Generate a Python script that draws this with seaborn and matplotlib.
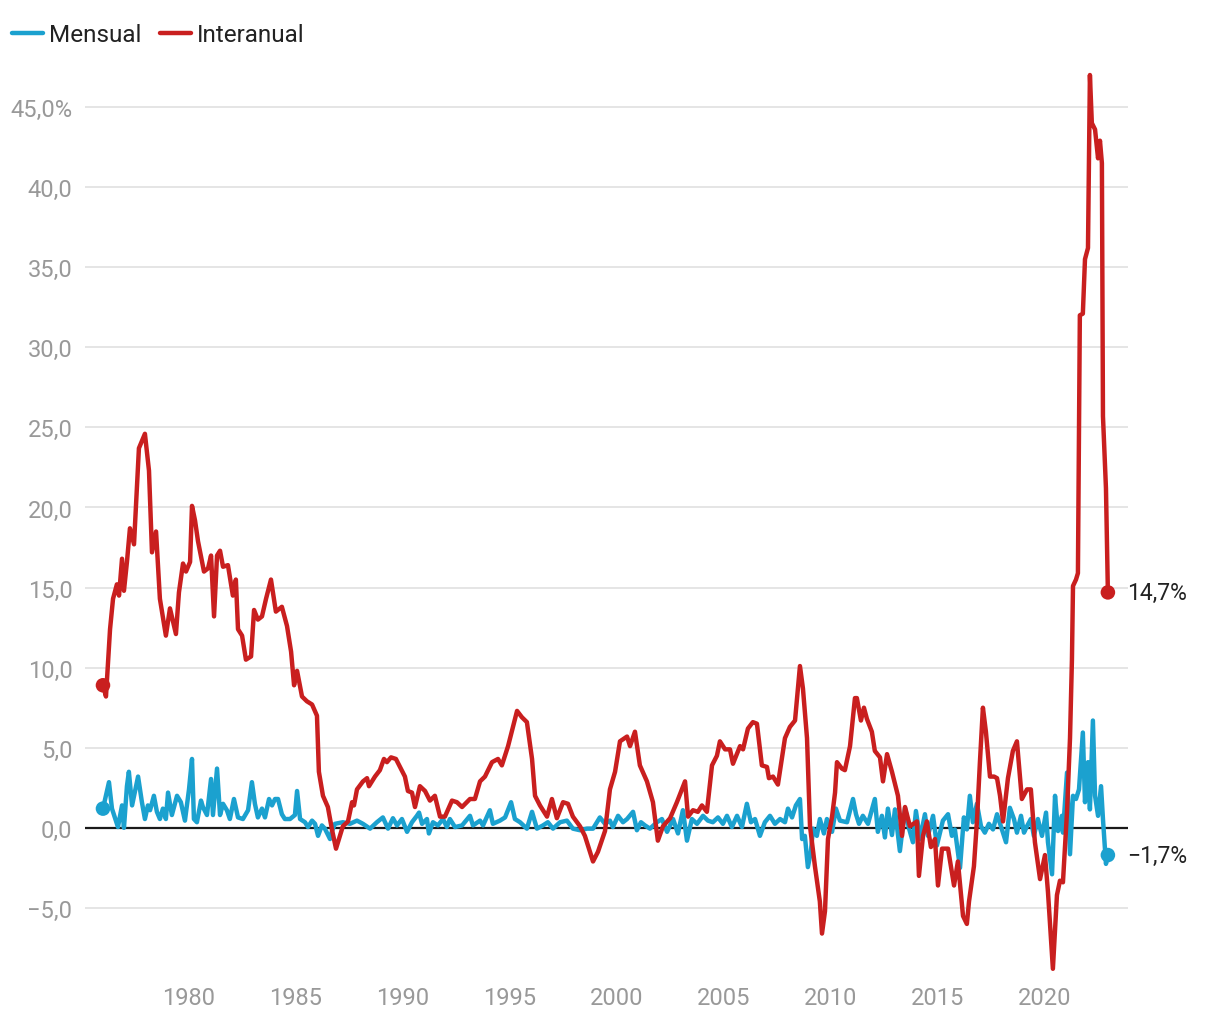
import pandas as pd
import numpy as np
import matplotlib
matplotlib.use('Agg')
import matplotlib.pyplot as plt
import seaborn as sns
from matplotlib.ticker import FuncFormatter

# interanual (red), decimal years
red_year = [1976.00, 1976.14, 1976.33, 1976.47, 1976.65, 1976.75, 1976.89, 1976.98, 1977.12, 1977.26,
            1977.45, 1977.68, 1977.96, 1978.15, 1978.29, 1978.48, 1978.66, 1978.94, 1979.13, 1979.41,
            1979.55, 1979.74, 1979.88, 1980.07, 1980.16, 1980.30, 1980.44, 1980.72, 1980.91, 1981.05,
            1981.19, 1981.33, 1981.47, 1981.61, 1981.84, 1982.07, 1982.21, 1982.31, 1982.50, 1982.68,
            1982.92, 1983.06, 1983.24, 1983.43, 1983.62, 1983.85, 1984.08, 1984.36, 1984.60, 1984.79,
            1984.93, 1985.07, 1985.30, 1985.53, 1985.77, 1986.00, 1986.09, 1986.28, 1986.51, 1986.70,
            1986.89, 1987.07, 1987.21, 1987.45, 1987.64, 1987.73, 1987.87, 1988.15, 1988.34, 1988.43,
            1988.57, 1988.71, 1988.94, 1989.13, 1989.27, 1989.46, 1989.69, 1989.88, 1990.11, 1990.25,
            1990.44, 1990.58, 1990.81, 1991.05, 1991.28, 1991.51, 1991.75, 1991.98, 1992.31, 1992.54,
            1992.78, 1993.15, 1993.38, 1993.62, 1993.85, 1994.18, 1994.46, 1994.64, 1994.93, 1995.35,
            1995.58, 1995.81, 1996.05, 1996.19, 1996.42, 1996.75, 1996.98, 1997.21, 1997.50, 1997.73,
            1997.96, 1998.29, 1998.52, 1998.90, 1999.13, 1999.46, 1999.69, 1999.93, 2000.16, 2000.49,
            2000.63, 2000.86, 2001.09, 2001.42, 2001.70, 2001.93, 2002.17, 2002.50, 2002.82, 2003.20,
            2003.34, 2003.57, 2003.80, 2003.99, 2004.22, 2004.46, 2004.69, 2004.83, 2005.07, 2005.30,
            2005.44, 2005.77, 2005.91, 2006.14, 2006.37, 2006.56, 2006.79, 2007.03, 2007.12, 2007.31,
            2007.54, 2007.87, 2008.10, 2008.34, 2008.57, 2008.71, 2008.90, 2009.04, 2009.27, 2009.50,
            2009.60, 2009.74, 2009.88, 2010.07, 2010.21, 2010.30, 2010.53, 2010.67, 2010.91, 2011.14,
            2011.23, 2011.42, 2011.56, 2011.70, 2011.93, 2012.07, 2012.31, 2012.45, 2012.64, 2012.87,
            2013.15, 2013.34, 2013.48, 2013.71, 2014.04, 2014.13, 2014.32, 2014.50, 2014.69, 2014.88,
            2015.02, 2015.21, 2015.49, 2015.77, 2015.95, 2016.19, 2016.37, 2016.47, 2016.70, 2016.84,
            2016.98, 2017.12, 2017.26, 2017.45, 2017.64, 2017.78, 2017.92, 2018.06, 2018.29, 2018.52,
            2018.71, 2018.94, 2019.18, 2019.36, 2019.55, 2019.79, 2020.02, 2020.16, 2020.39, 2020.58,
            2020.72, 2020.86, 2021.05, 2021.19, 2021.28, 2021.33, 2021.47, 2021.56, 2021.61, 2021.65,
            2021.79, 2021.89, 2022.03, 2022.12, 2022.21, 2022.36, 2022.50, 2022.59, 2022.68, 2022.73,
            2022.87, 2022.96]
red_val = [8.9, 8.2, 12.4, 14.3, 15.2, 14.5, 16.8, 14.8, 16.6, 18.7,
           17.7, 23.7, 24.6, 22.3, 17.2, 18.5, 14.3, 12.0, 13.7, 12.1,
           14.7, 16.5, 16.0, 16.6, 20.1, 19.2, 17.9, 16.0, 16.2, 17.0,
           13.2, 17.0, 17.3, 16.3, 16.4, 14.5, 15.5, 12.4, 12.0, 10.5,
           10.7, 13.6, 13.0, 13.2, 14.3, 15.5, 13.5, 13.8, 12.6, 11.0,
           8.9, 9.8, 8.2, 7.9, 7.7, 7.0, 3.5, 2.0, 1.3, -0.1,
           -1.3, -0.5, 0.1, 0.4, 1.6, 1.4, 2.4, 2.9, 3.1, 2.6,
           2.9, 3.2, 3.6, 4.3, 4.1, 4.4, 4.3, 3.8, 3.2, 2.3,
           2.2, 1.3, 2.6, 2.3, 1.7, 2.0, 0.7, 0.7, 1.7, 1.6,
           1.3, 1.8, 1.8, 2.9, 3.2, 4.1, 4.3, 3.9, 5.1, 7.3,
           6.9, 6.6, 4.3, 2.0, 1.4, 0.7, 1.8, 0.6, 1.6, 1.5,
           0.7, 0.1, -0.5, -2.1, -1.5, -0.2, 2.4, 3.5, 5.4, 5.7,
           5.1, 6.0, 3.9, 2.9, 1.6, -0.8, 0.1, 0.6, 1.6, 2.9,
           0.7, 1.1, 1.0, 1.4, 1.0, 3.9, 4.5, 5.4, 4.9, 4.9,
           4.0, 5.1, 4.9, 6.2, 6.6, 6.5, 3.9, 3.8, 3.1, 3.2,
           2.7, 5.6, 6.3, 6.7, 10.1, 8.7, 5.6, 0.1, -2.4, -4.6,
           -6.6, -5.2, -0.7, 0.7, 2.2, 4.1, 3.7, 3.6, 5.1, 8.1,
           8.1, 6.7, 7.5, 6.8, 6.0, 4.8, 4.4, 2.9, 4.6, 3.5,
           2.0, -0.5, 1.3, 0.1, 0.4, -3.0, -0.5, 0.4, -1.2, -0.7,
           -3.6, -1.3, -1.3, -3.6, -2.1, -5.5, -6.0, -4.6, -2.4, 0.4,
           4.1, 7.5, 6.0, 3.2, 3.2, 3.1, 2.0, 0.4, 3.1, 4.8,
           5.4, 1.8, 2.4, 2.4, -0.9, -3.2, -1.7, -4.0, -8.8, -4.2,
           -3.3, -3.4, 1.0, 5.6, 10.5, 15.1, 15.5, 15.9, 24.6, 32.0,
           32.1, 35.5, 36.2, 47.0, 44.0, 43.6, 41.8, 42.9, 41.5, 25.7,
           21.2, 14.7]

# mensual (blue)
blue_year = [1976.00, 1976.28, 1976.42, 1976.70, 1976.89, 1976.98, 1977.12, 1977.21, 1977.36, 1977.64,
             1977.82, 1977.96, 1978.10, 1978.20, 1978.38, 1978.52, 1978.66, 1978.80, 1978.94, 1979.04,
             1979.22, 1979.46, 1979.64, 1979.83, 1980.02, 1980.16, 1980.25, 1980.39, 1980.58, 1980.67,
             1980.86, 1981.05, 1981.14, 1981.33, 1981.47, 1981.61, 1981.79, 1981.93, 1982.12, 1982.31,
             1982.54, 1982.78, 1982.96, 1983.10, 1983.24, 1983.43, 1983.57, 1983.76, 1983.90, 1984.04,
             1984.18, 1984.36, 1984.50, 1984.74, 1984.97, 1985.07, 1985.21, 1985.44, 1985.58, 1985.77,
             1985.91, 1986.05, 1986.23, 1986.37, 1986.61, 1986.70, 1986.84, 1987.21, 1987.54, 1987.87,
             1988.15, 1988.48, 1988.80, 1989.08, 1989.32, 1989.55, 1989.74, 1989.97, 1990.21, 1990.44,
             1990.67, 1990.77, 1990.91, 1991.14, 1991.23, 1991.42, 1991.65, 1991.89, 1992.07, 1992.21,
             1992.45, 1992.78, 1993.15, 1993.29, 1993.62, 1993.76, 1994.08, 1994.22, 1994.55, 1994.79,
             1995.07, 1995.25, 1995.49, 1995.81, 1996.05, 1996.28, 1996.56, 1996.79, 1997.03, 1997.36,
             1997.68, 1997.96, 1998.29, 1998.62, 1998.90, 1999.22, 1999.46, 1999.69, 1999.83, 2000.07,
             2000.30, 2000.49, 2000.77, 2000.95, 2001.14, 2001.33, 2001.56, 2001.89, 2002.12, 2002.36,
             2002.64, 2002.87, 2003.10, 2003.29, 2003.52, 2003.76, 2004.04, 2004.27, 2004.50, 2004.74,
             2004.97, 2005.16, 2005.39, 2005.63, 2005.86, 2006.09, 2006.28, 2006.47, 2006.70, 2006.93,
             2007.17, 2007.40, 2007.64, 2007.87, 2008.01, 2008.20, 2008.38, 2008.57, 2008.67, 2008.80,
             2008.94, 2009.08, 2009.18, 2009.36, 2009.50, 2009.69, 2009.83, 2010.07, 2010.25, 2010.44,
             2010.77, 2011.05, 2011.19, 2011.33, 2011.51, 2011.75, 2012.07, 2012.21, 2012.40, 2012.54,
             2012.68, 2012.87, 2013.01, 2013.24, 2013.48, 2013.66, 2013.85, 2013.99, 2014.18, 2014.41,
             2014.55, 2014.79, 2014.97, 2015.25, 2015.49, 2015.67, 2015.81, 2016.05, 2016.23, 2016.37,
             2016.51, 2016.65, 2016.84, 2017.03, 2017.21, 2017.40, 2017.59, 2017.78, 2018.01, 2018.20,
             2018.38, 2018.57, 2018.71, 2018.90, 2019.04, 2019.18, 2019.36, 2019.50, 2019.69, 2019.88,
             2020.07, 2020.16, 2020.35, 2020.49, 2020.63, 2020.81, 2020.86, 2021.05, 2021.19, 2021.33,
             2021.47, 2021.61, 2021.79, 2021.89, 2022.03, 2022.12, 2022.26, 2022.36, 2022.50, 2022.64,
             2022.73, 2022.87, 2022.96]
blue_val = [1.2, 2.85, 1.2, 0.05, 1.4, 0.0, 2.6, 3.5, 1.4, 3.2,
            1.6, 0.55, 1.4, 1.1, 2.0, 1.0, 0.55, 1.2, 0.55, 2.2,
            0.8, 2.0, 1.6, 0.45, 2.4, 4.3, 0.55, 0.35, 1.7, 1.3,
            0.8, 3.05, 0.8, 3.7, 0.8, 1.5, 1.1, 0.55, 1.8, 0.65,
            0.55, 1.1, 2.85, 1.5, 0.65, 1.2, 0.65, 1.8, 1.4, 1.8,
            1.8, 0.85, 0.55, 0.55, 0.8, 2.3, 0.55, 0.35, 0.05, 0.45,
            0.25, -0.5, 0.15, -0.05, -0.7, -0.2, 0.25, 0.35, 0.25, 0.45,
            0.25, -0.05, 0.35, 0.65, -0.05, 0.6, 0.15, 0.55, -0.25, 0.35,
            0.75, 0.95, 0.25, 0.55, -0.35, 0.35, 0.15, 0.55, 0.05, 0.55,
            0.05, 0.15, 0.75, 0.15, 0.45, 0.15, 1.1, 0.25, 0.45, 0.65,
            1.6, 0.55, 0.35, -0.05, 1.0, -0.05, 0.15, 0.35, -0.05, 0.35,
            0.45, -0.05, -0.15, -0.05, -0.05, 0.65, 0.25, 0.45, 0.05, 0.75,
            0.35, 0.55, 1.0, -0.15, 0.35, 0.15, -0.05, 0.35, 0.55, -0.25,
            0.55, -0.35, 1.1, -0.8, 0.55, 0.25, 0.75, 0.45, 0.35, 0.65,
            0.25, 0.75, 0.05, 0.75, 0.05, 1.5, 0.35, 0.55, -0.5, 0.35,
            0.75, 0.25, 0.55, 0.35, 1.2, 0.65, 1.4, 1.8, -0.7, -0.5,
            -2.45, -1.5, -0.05, -0.5, 0.55, -0.35, 0.55, -0.25, 1.2, 0.45,
            0.35, 1.8, 0.85, 0.25, 0.75, 0.25, 1.8, -0.25, 0.75, -0.6,
            1.2, -0.45, 1.15, -1.45, 1.25, 0.0, -0.9, 1.05, -0.7, 0.85,
            -0.5, 0.75, -1.1, 0.45, 0.85, -0.5, -0.1, -2.5, 0.65, -0.1,
            2.0, 0.35, 1.5, 0.1, -0.3, 0.25, -0.1, 0.85, -0.1, -0.9,
            1.25, 0.55, -0.3, 0.75, -0.3, 0.1, 0.55, -0.5, 0.55, -0.5,
            0.95, -0.9, -2.9, 2.0, -0.2, 0.75, -0.3, 3.45, -1.65, 2.0,
            1.8, 2.4, 5.95, 1.6, 4.1, 1.15, 6.7, 2.0, 0.75, 2.6,
            0.55, -2.25, -1.7]

series_names = ['Mensual', 'Interanual']
colors = {'Mensual': '#1ba1cf', 'Interanual': '#c91f1f'}
y_ticks = [-5, 0, 5, 10, 15, 20, 25, 30, 35, 40, 45]
x_ticks = [1980, 1985, 1990, 1995, 2000, 2005, 2010, 2015, 2020]

assert len(red_year) == len(red_val) and len(blue_year) == len(blue_val)

df = pd.concat([
    pd.DataFrame({'year': blue_year, 'value': blue_val, 'serie': 'Mensual'}),
    pd.DataFrame({'year': red_year, 'value': red_val, 'serie': 'Interanual'}),
], ignore_index=True)

sns.set_style('white')
plt.rcParams['font.family'] = ['Roboto', 'DejaVu Sans']

fig = plt.figure(figsize=(12.2, 10.2), dpi=100)
ax = fig.add_axes([85/1220, 39/1020, 1043/1220, 921/1020])

for y in y_ticks:
    if y != 0:
        ax.axhline(y, color='#e3e3e3', lw=1.3, zorder=0)
ax.axhline(0, color='#1a1a1a', lw=1.6, zorder=1)

sns.lineplot(data=df, x='year', y='value', hue='serie', hue_order=series_names,
             palette=colors, linewidth=3.2, estimator=None, sort=False, ax=ax, zorder=3,
             solid_joinstyle='round', solid_capstyle='round')

# start and end dots
ends = pd.concat([df[df.serie == s].iloc[[0, -1]] for s in series_names])
sns.scatterplot(data=ends, x='year', y='value', hue='serie', hue_order=series_names,
                palette=colors, s=110, edgecolor='none', legend=False, ax=ax, zorder=4)

def fmt_num(v):
    return f"{v:.1f}".replace('.', ',').replace('-', '\u2212')

for s in series_names:
    last = df[df.serie == s].iloc[-1]
    ax.annotate(fmt_num(last.value) + '%', (last.year, last.value), xytext=(14, 0),
                textcoords='offset points', va='center', ha='left', fontsize=16.5, color='#222222')

ax.set_xlim(1975.16, 2023.90)
ax.set_ylim(-9.5, 48)
ax.set_xticks(x_ticks)
ax.set_yticks(y_ticks)
ax.yaxis.set_major_formatter(FuncFormatter(lambda v, p: fmt_num(v) + ('%' if v == 45 else '')))
ax.tick_params(axis='both', length=0, labelsize=17, labelcolor='#999999')
ax.tick_params(axis='y', pad=9)
ax.tick_params(axis='x', pad=4)
ax.set_xlabel('')
ax.set_ylabel('')
sns.despine(ax=ax, left=True, bottom=True)

sns.move_legend(ax, 'upper left', bbox_to_anchor=(0.0, 1 - 12/1020), bbox_transform=fig.transFigure,
                ncol=2, frameon=False, title=None, fontsize=17.5, handlelength=1.25,
                handletextpad=0.25, columnspacing=0.8, borderaxespad=0.1)
for line in ax.get_legend().get_lines():
    line.set_linewidth(3.2)
    line.set_solid_capstyle('round')
for t in ax.get_legend().get_texts():
    t.set_color('#222222')

fig.savefig('out.png', dpi=100)
